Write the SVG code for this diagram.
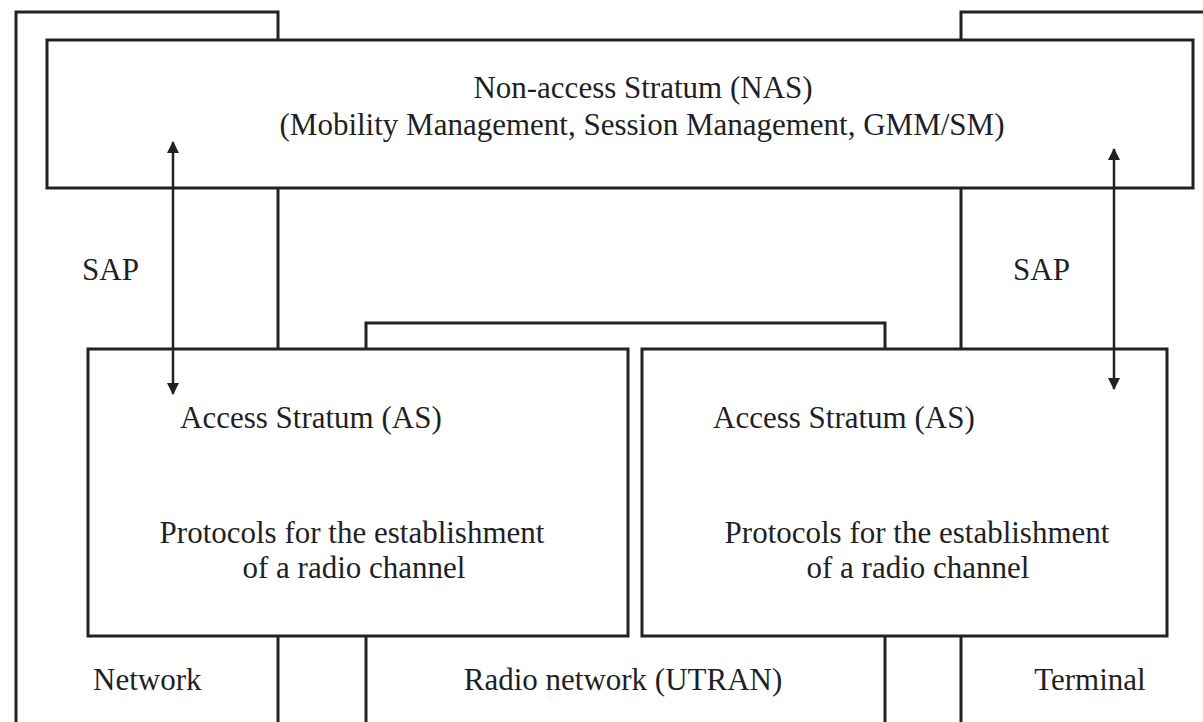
<svg xmlns="http://www.w3.org/2000/svg" width="1203" height="722" viewBox="0 0 1203 722">
  <style>
    .ln { fill: none; stroke: #222; stroke-width: 3; }
    .box { fill: #fff; stroke: #222; stroke-width: 3; }
    .arr { fill: none; stroke: #222; stroke-width: 2.5; }
    text { font-family: "Liberation Serif", "Times New Roman", serif; font-size: 31px; fill: #1f1f26; }
    .c { text-anchor: middle; }
  </style>
  <defs>
    <marker id="head" viewBox="0 0 12 12" refX="11" refY="6" markerWidth="12" markerHeight="12" markerUnits="userSpaceOnUse" orient="auto-start-reverse">
      <path d="M0,0 L12,6 L0,12 Z" fill="#222"/>
    </marker>
  </defs>
  <rect width="1203" height="722" fill="#fff"/>

  <!-- domain frames: network, radio network, terminal -->
  <g id="frames">
    <path class="ln" d="M16,722 V12 H278 V40"/>
    <path class="ln" d="M278,188 V349 M278,636 V722"/>
    <path class="ln" d="M1203,12 H961 V40"/>
    <path class="ln" d="M961,188 V349 M961,636 V722"/>
    <path class="ln" d="M366,349 V323 H885 V349"/>
    <path class="ln" d="M366,636 V722 M885,636 V722"/>
  </g>

  <g id="nas">
    <rect class="box" x="47" y="40" width="1146" height="148"/>
    <text class="c" x="643" y="98">Non-access Stratum (NAS)</text>
    <text class="c" x="642" y="135">(Mobility Management, Session Management, GMM/SM)</text>
  </g>

  <g id="as-network">
    <rect class="box" x="88" y="349" width="540" height="287"/>
    <text x="180" y="428">Access Stratum (AS)</text>
    <text class="c" x="352" y="543">Protocols for the establishment</text>
    <text class="c" x="354" y="578">of a radio channel</text>
  </g>

  <g id="as-terminal">
    <rect class="box" x="642" y="349" width="525" height="287"/>
    <text x="713" y="428">Access Stratum (AS)</text>
    <text class="c" x="917" y="543">Protocols for the establishment</text>
    <text class="c" x="918" y="578">of a radio channel</text>
  </g>

  <!-- service access points between NAS and AS -->
  <g id="connectors">
    <line class="arr" x1="173" y1="142" x2="173" y2="394" marker-start="url(#head)" marker-end="url(#head)"/>
    <line class="arr" x1="1114" y1="149" x2="1114" y2="389" marker-start="url(#head)" marker-end="url(#head)"/>
  </g>

  <g id="labels">
    <text x="82" y="280">SAP</text>
    <text x="1013" y="280">SAP</text>
    <text x="93" y="690">Network</text>
    <text class="c" x="623" y="690">Radio network (UTRAN)</text>
    <text class="c" x="1090" y="690">Terminal</text>
  </g>
</svg>
